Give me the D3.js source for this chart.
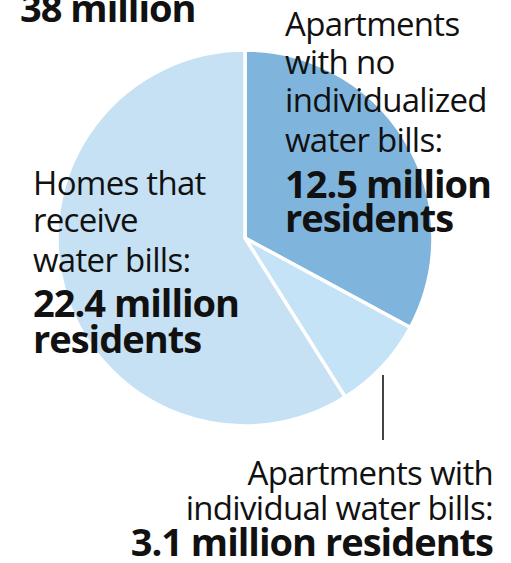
<!DOCTYPE html>
<html>
<head>
<meta charset="utf-8">
<script src="https://cdn.jsdelivr.net/npm/d3@7"></script>
<style>
  body { margin: 0; background: #fff; }
  text { font-family: "Open Sans", Roboto, sans-serif; fill: #111; }
</style>
</head>
<body>
<div id="chart"></div>
<script>
// Residents by type of water billing (millions)
var categories = ["Apartments with no individualized water bills", "Apartments with individual water bills", "Homes that receive water bills"];
var residents = [12.5, 3.1, 22.4];
var total = 38;
var sliceColors = ["#7fb5dd", "#c5e3f6", "#c6e1f3"];

var svgWidth = 511;
var svgHeight = 563;

var svg = d3.select("#chart").append("svg")
    .attr("width", svgWidth)
    .attr("height", svgHeight);

var cx = 245, cy = 238, radius = 188;

var pie = d3.pie().sort(null).value(d => d);
var arc = d3.arc().innerRadius(0).outerRadius(radius);

var pieGroup = svg.append("g")
    .attr("transform", `translate(${cx}, ${cy})`);

pieGroup.selectAll("path")
    .data(pie(residents))
    .enter()
    .append("path")
    .attr("d", arc)
    .attr("fill", (d, i) => sliceColors[i])
    .attr("stroke", "#fff")
    .attr("stroke-width", 3.5)
    .attr("stroke-linejoin", "round");

// total headline, cut off at the top
svg.append("text")
    .attr("x", 20)
    .attr("y", 22)
    .attr("font-size", 38)
    .attr("font-weight", "bold")
    .attr("letter-spacing", -1)
    .text(total + " million");

// leader line for the small slice
svg.append("line")
    .attr("x1", 383).attr("x2", 383)
    .attr("y1", 375).attr("y2", 440)
    .attr("stroke", "#444")
    .attr("stroke-width", 2);

function block(x, anchor, lines) {
    var g = svg.append("g");
    lines.forEach(l => {
        g.append("text")
            .attr("x", x)
            .attr("y", l.y)
            .attr("text-anchor", anchor)
            .attr("font-size", l.bold ? 38 : 33)
            .attr("font-weight", l.bold ? "bold" : "normal")
            .attr("letter-spacing", l.bold ? -1 : -0.7)
            .text(l.t);
    });
}

block(285, "start", [
    {t: "Apartments", y: 36},
    {t: "with no", y: 74},
    {t: "individualized", y: 112},
    {t: "water bills:", y: 152},
    {t: residents[0] + " million", y: 198, bold: true},
    {t: "residents", y: 232, bold: true}
]);

block(33, "start", [
    {t: "Homes that", y: 195},
    {t: "receive", y: 232},
    {t: "water bills:", y: 272},
    {t: residents[2] + " million", y: 317, bold: true},
    {t: "residents", y: 353, bold: true}
]);

block(493, "end", [
    {t: "Apartments with", y: 485},
    {t: "individual water bills:", y: 520},
    {t: residents[1] + " million residents", y: 556, bold: true}
]);
</script>
</body>
</html>
